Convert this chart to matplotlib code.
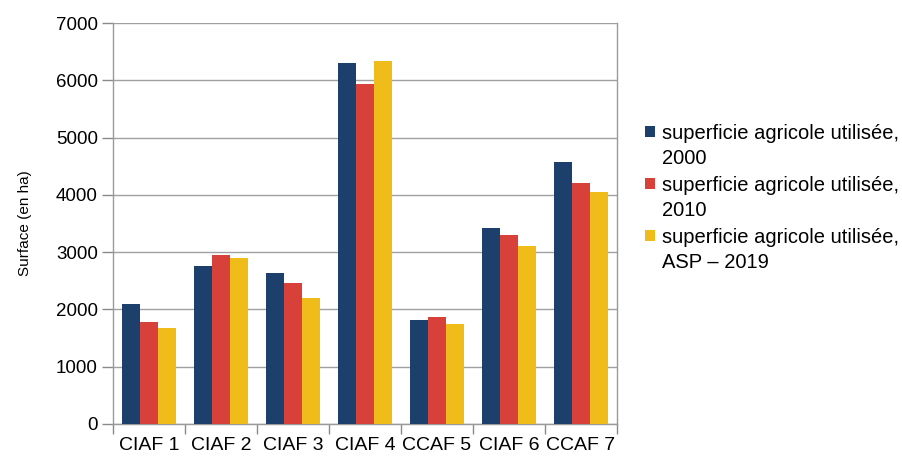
import matplotlib
matplotlib.use("Agg")
import matplotlib.pyplot as plt
from matplotlib.patches import Patch, Rectangle
from matplotlib.legend_handler import HandlerPatch
import numpy as np

plt.rcParams['font.family'] = ['Liberation Sans', 'DejaVu Sans']

categories = ["CIAF 1", "CIAF 2", "CIAF 3", "CIAF 4", "CCAF 5", "CIAF 6", "CCAF 7"]
sau_2000 = [2100, 2750, 2630, 6300, 1820, 3420, 4580]
sau_2010 = [1780, 2950, 2470, 5930, 1860, 3300, 4200]
sau_2019 = [1670, 2890, 2200, 6340, 1740, 3110, 4050]
series_labels = ["superficie agricole utilisée,\n2000",
                 "superficie agricole utilisée,\n2010",
                 "superficie agricole utilisée,\nASP – 2019"]
colors = ["#1d3f6b", "#d8403a", "#f0bc1a"]
y_ticks = [0, 1000, 2000, 3000, 4000, 5000, 6000, 7000]

W, H = 903, 459
fig = plt.figure(figsize=(W / 100, H / 100), dpi=100)
ax = fig.add_axes([113 / W, 1 - 424 / H, (617 - 113) / W, (424 - 23) / H])

x = np.arange(len(categories))
bw = 0.25
for i, (vals, c) in enumerate(zip([sau_2000, sau_2010, sau_2019], colors)):
    ax.bar(x + (i - 1) * bw, vals, width=bw, color=c, zorder=3)

ax.set_xlim(-0.5, len(categories) - 0.5)
ax.set_ylim(0, 7000)
ax.set_yticks(y_ticks)
ax.set_yticklabels([str(v) for v in y_ticks], fontsize=13.5)
ax.set_xticks(x)
ax.set_xticklabels(categories, fontsize=14)
ax.tick_params(axis='x', length=0, pad=9)
ax.set_xticks(np.arange(len(categories) + 1) - 0.5, minor=True)
ax.tick_params(axis='x', which='minor', length=7, color='#8a8a8a', width=1)
ax.tick_params(axis='y', length=8, color='#8a8a8a', width=1, pad=3)
ax.grid(axis='y', color='#a0a0a0', linewidth=1, zorder=0)
for s in ax.spines.values():
    s.set_color('#9a9a9a')
    s.set_linewidth(1)
ax.spines['top'].set_visible(False)

ax.set_ylabel("Surface (en ha)", fontsize=11, labelpad=17)


def top_aligned_square(legend, orig_handle, xdescent, ydescent,
                       width, height, fontsize):
    # square key placed beside the first line of a two-line label
    return Rectangle((-xdescent, -ydescent + 0.75 * fontsize), width, height)


handles = [Patch(facecolor=c, edgecolor='none') for c in colors]
leg = fig.legend(handles, series_labels, loc='upper left',
                 bbox_to_anchor=(637 / W, 1 - 116 / H), frameon=False,
                 fontsize=14.5, handlelength=0.5, handleheight=0.5,
                 handletextpad=0.35, labelspacing=0.4, borderaxespad=0,
                 handler_map={Patch: HandlerPatch(patch_func=top_aligned_square)})
for t in leg.get_texts():
    t.set_linespacing(1.4)

fig.savefig("out.png", dpi=100)
